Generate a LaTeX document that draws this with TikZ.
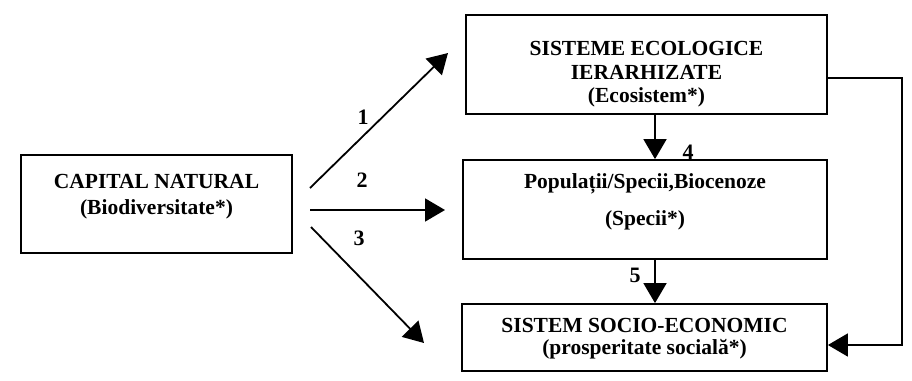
\documentclass[tikz,border=0pt]{standalone}
\usepackage{fontspec}
\setmainfont{Liberation Serif}
\usetikzlibrary{arrows.meta}
\begin{document}
\begin{tikzpicture}[x=1pt,y=-1pt,
  box/.style={draw,line width=1.8pt,minimum width=#1,inner sep=0pt},
  txt/.style={anchor=base,inner sep=0pt,font=\fontsize{21.5}{22}\selectfont\bfseries},
  num/.style={inner sep=0pt,font=\fontsize{22}{22}\selectfont\bfseries},
  link/.style={line width=1.8pt,-{Triangle[length=20pt,width=23pt]}}]
\useasboundingbox (0,0) rectangle (912,380);

% boxes
\node[box=271pt,minimum height=98pt] (cap) at (156.5,204) {};
\node[box=361pt,minimum height=99pt] (eco) at (646.5,64.5) {};
\node[box=364pt,minimum height=99pt] (pop) at (645,209.5) {};
\node[box=365pt,minimum height=67pt] (soc) at (644.5,337.5) {};

% box texts
\node[txt] (capA) at (156.5,188) {CAPITAL NATURAL};
\node[txt] (capB) at (156.5,214) {(Biodiversitate*)};
\node[txt] (ecoA) at (646.5,55) {SISTEME ECOLOGICE};
\node[txt] (ecoB) at (646.5,79) {IERARHIZATE};
\node[txt] (ecoC) at (646.5,102) {(Ecosistem*)};
\node[txt] (popA) at (645,188) {Populații/Specii,Biocenoze};
\node[txt] (popB) at (645,225) {(Specii*)};
\node[txt] (socA) at (644.5,332) {SISTEM SOCIO-ECONOMIC};
\node[txt] (socB) at (644.5,354) {(prosperitate socială*)};

% free ends of the three outgoing arrows
\coordinate (s1) at (310,188);
\coordinate (e1) at (448,53);
\coordinate (s2) at (310,210);
\coordinate (e2) at (445,210);
\coordinate (s3) at (311,227);
\coordinate (e3) at (424,343);
\coordinate (fb1) at (902,78);
\coordinate (fb2) at (902,345);

\draw[link] (s1) -- (e1);
\draw[link] (s2) -- (e2);
\draw[link] (s3) -- (e3);
\draw[link] (eco.south -| 655,0) -- (pop.north -| 655,0);
\draw[link] (pop.south -| 655,0) -- (soc.north -| 655,0);
\draw[link] (eco.east |- fb1) -- (fb1) -- (fb2) -- (soc.east |- fb2);

% arrow numbers
\node[num] (n1) at (363,117) {1};
\node[num] (n2) at (362,180) {2};
\node[num] (n3) at (359,238) {3};
\node[num] (n4) at (688,152) {4};
\node[num] (n5) at (635,275) {5};
\end{tikzpicture}
\end{document}
